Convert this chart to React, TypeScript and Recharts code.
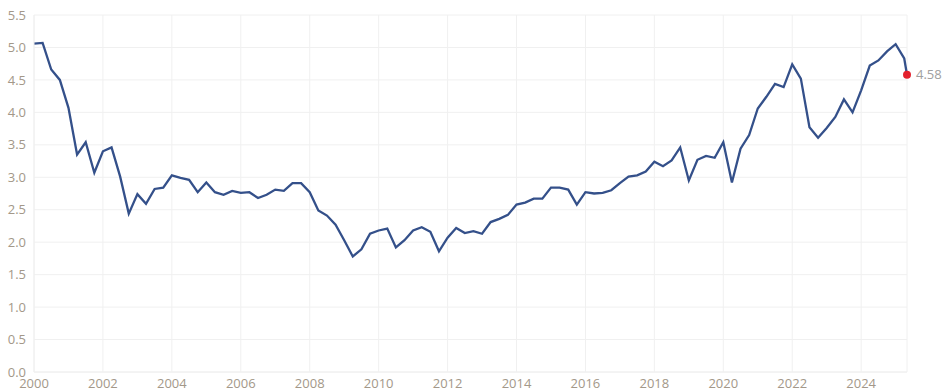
import React from 'react';
import { LineChart, Line, XAxis, YAxis, CartesianGrid } from 'recharts';

const periods: number[] = [
  2000.0, 2000.25, 2000.5, 2000.75, 2001.0, 2001.25, 2001.5, 2001.75,
  2002.0, 2002.25, 2002.5, 2002.75, 2003.0, 2003.25, 2003.5, 2003.75,
  2004.0, 2004.25, 2004.5, 2004.75, 2005.0, 2005.25, 2005.5, 2005.75,
  2006.0, 2006.25, 2006.5, 2006.75, 2007.0, 2007.25, 2007.5, 2007.75,
  2008.0, 2008.25, 2008.5, 2008.75, 2009.0, 2009.25, 2009.5, 2009.75,
  2010.0, 2010.25, 2010.5, 2010.75, 2011.0, 2011.25, 2011.5, 2011.75,
  2012.0, 2012.25, 2012.5, 2012.75, 2013.0, 2013.25, 2013.5, 2013.75,
  2014.0, 2014.25, 2014.5, 2014.75, 2015.0, 2015.25, 2015.5, 2015.75,
  2016.0, 2016.25, 2016.5, 2016.75, 2017.0, 2017.25, 2017.5, 2017.75,
  2018.0, 2018.25, 2018.5, 2018.75, 2019.0, 2019.25, 2019.5, 2019.75,
  2020.0, 2020.25, 2020.5, 2020.75, 2021.0, 2021.25, 2021.5, 2021.75,
  2022.0, 2022.25, 2022.5, 2022.75, 2023.0, 2023.25, 2023.5, 2023.75,
  2024.0, 2024.25, 2024.5, 2024.75, 2025.0, 2025.25, 2025.33,
];

const values: number[] = [
  5.06, 5.07, 4.66, 4.50, 4.07, 3.35, 3.54, 3.07,
  3.40, 3.46, 3.01, 2.44, 2.74, 2.59, 2.82, 2.84,
  3.03, 2.99, 2.96, 2.77, 2.92, 2.77, 2.73, 2.79,
  2.76, 2.77, 2.68, 2.73, 2.81, 2.79, 2.91, 2.91,
  2.77, 2.49, 2.41, 2.27, 2.03, 1.78, 1.89, 2.13,
  2.18, 2.21, 1.92, 2.03, 2.18, 2.23, 2.16, 1.86,
  2.07, 2.22, 2.14, 2.17, 2.13, 2.31, 2.36, 2.42,
  2.58, 2.61, 2.67, 2.67, 2.84, 2.84, 2.81, 2.58,
  2.77, 2.75, 2.76, 2.80, 2.91, 3.01, 3.03, 3.09,
  3.24, 3.17, 3.26, 3.46, 2.95, 3.27, 3.33, 3.30,
  3.54, 2.92, 3.44, 3.65, 4.06, 4.24, 4.44, 4.39,
  4.74, 4.52, 3.77, 3.61, 3.76, 3.93, 4.20, 4.00,
  4.34, 4.72, 4.80, 4.94, 5.05, 4.83, 4.58,
];

const xTicks: number[] = [2000, 2002, 2004, 2006, 2008, 2010, 2012, 2014, 2016, 2018, 2020, 2022, 2024];
const yTicks: number[] = [0, 0.5, 1, 1.5, 2, 2.5, 3, 3.5, 4, 4.5, 5, 5.5];

const data = periods.map((p, i) => ({ x: p, v: values[i] }));
const lastIndex = data.length - 1;

const FONT = '"Open Sans", sans-serif';
const TICK_COLOR = '#a39889';

const renderDot = (props: any) => {
  const { cx, cy, index } = props;
  if (index !== lastIndex) return <g key={`d${index}`} />;
  return (
    <g key={`d${index}`}>
      <circle cx={cx} cy={cy} r={4} fill="#e3212d" stroke="none" />
      <text x={cx + 9} y={cy} dy="0.35em" fontSize={13} fill="#a0a0a0" fontFamily={FONT}>
        {values[lastIndex].toFixed(2)}
      </text>
    </g>
  );
};

export default function App() {
  return (
    <div style={{ position: 'fixed', left: 0, top: 0, width: 943, height: 391, background: '#fff' }}>
      <LineChart
        width={943}
        height={391}
        data={data}
        margin={{ top: 15, right: 36, bottom: 0, left: 0 }}
      >
        <CartesianGrid stroke="#f0f0f0" strokeWidth={1} vertical={true} horizontal={true} />
        <XAxis
          dataKey="x"
          type="number"
          domain={[2000, 2025.33]}
          ticks={xTicks}
          tickLine={false}
          tickMargin={1}
          axisLine={{ stroke: '#f0f0f0' }}
          height={19}
          tick={{ fill: TICK_COLOR, fontSize: 13, fontFamily: FONT }}
          interval={0}
        />
        <YAxis
          type="number"
          domain={[0, 5.5]}
          ticks={yTicks}
          width={34}
          tickLine={false}
          axisLine={{ stroke: '#f0f0f0' }}
          tickFormatter={(v: number) => v.toFixed(1)}
          tick={{ fill: TICK_COLOR, fontSize: 13, fontFamily: FONT }}
          interval={0}
        />
        <Line
          type="linear"
          dataKey="v"
          stroke="#34508a"
          strokeWidth={2.3}
          dot={renderDot}
          activeDot={false}
          isAnimationActive={false}
        />
      </LineChart>
    </div>
  );
}
